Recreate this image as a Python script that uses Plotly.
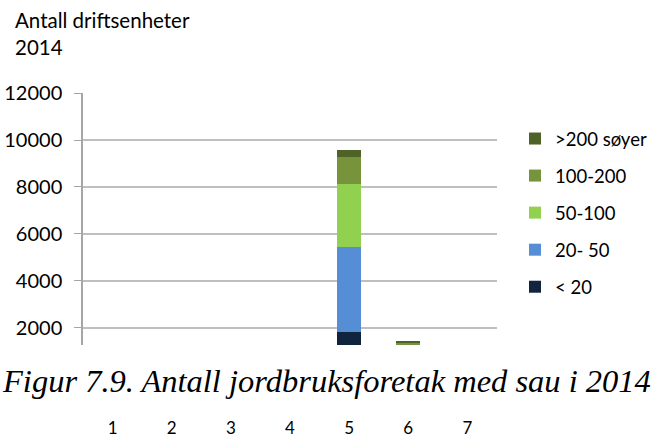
import plotly.graph_objects as go

# categories on the x axis
categories = ["1", "2", "3", "4", "5", "6", "7"]

# number of farms per flock size (series)
under_20 = [0, 0, 0, 0, 1830, 450, 0]
from_20_50 = [0, 0, 0, 0, 3630, 400, 0]
from_50_100 = [0, 0, 0, 0, 2670, 300, 0]
from_100_200 = [0, 0, 0, 0, 1160, 250, 0]
over_200 = [0, 0, 0, 0, 270, 60, 0]

series_names = ["< 20", "20- 50", "50-100", "100-200", ">200 søyer"]
series_values = [under_20, from_20_50, from_50_100, from_100_200, over_200]
series_colors = ["#10243e", "#558ed5", "#92d050", "#77933c", "#4f6228"]

y_ticks = [2000, 4000, 6000, 8000, 10000, 12000]
y_tick_labels = ["2000", "4000", "6000", "8000", "10000", "12000"]

label_font = "Lato, 'Open Sans', sans-serif"

fig = go.Figure()
for i, (name, vals, color) in enumerate(zip(series_names, series_values, series_colors)):
    fig.add_trace(go.Bar(
        x=categories,
        y=vals,
        name=name,
        legendgroup=name,
        legendrank=len(series_names) - i,  # top of stack first in legend
        marker=dict(color=color, line=dict(width=0)),
    ))

fig.update_layout(
    width=651,
    height=437,
    barmode="stack",
    bargap=0.59,
    plot_bgcolor="white",
    paper_bgcolor="white",
    margin=dict(l=83, r=154, t=93, b=92, autoexpand=False),
    font=dict(family=label_font, size=19, color="#000000"),
    legend=dict(
        traceorder="grouped",
        tracegroupgap=10,
        xref="container", yref="container",
        x=515 / 651, xanchor="left",
        y=1 - 120 / 437, yanchor="top",
        font=dict(size=18.5),
        itemwidth=30,
    ),
    xaxis=dict(
        showgrid=False,
        showline=False,
        ticks="",
        ticklabelstandoff=71,
        tickfont=dict(size=17),
    ),
    yaxis=dict(
        range=[1276, 12000],
        tickvals=y_ticks,
        ticktext=y_tick_labels,
        showgrid=True,
        gridcolor="#bfbfbf",
        gridwidth=1.5,
        showline=True,
        linecolor="#a6a6a6",
        linewidth=1.5,
        ticks="outside",
        ticklen=7,
        tickcolor="#a6a6a6",
        ticklabelstandoff=8,
        tickfont=dict(size=20),
        zeroline=False,
    ),
)

# y axis title in two lines above the plot
fig.add_annotation(
    text="Antall driftsenheter<br>2014",
    xref="paper", yref="paper",
    x=-70 / 414, y=1 + 87 / 252,
    xanchor="left", yanchor="top",
    align="left",
    showarrow=False,
    font=dict(family=label_font, size=20.5),
)

# figure caption
fig.add_annotation(
    text="<i>Figur 7.9. Antall jordbruksforetak med sau i 2014</i>",
    xref="paper", yref="paper",
    x=-83 / 414, y=-36 / 252,
    xanchor="left", yanchor="middle",
    showarrow=False,
    font=dict(family="'Liberation Serif', serif", size=32.5),
)

# drop the default page margin so the figure sits at the window corner
fig.write_html(
    "out.html",
    config={"displayModeBar": False},
    post_script="document.body.style.margin='0';",
)
